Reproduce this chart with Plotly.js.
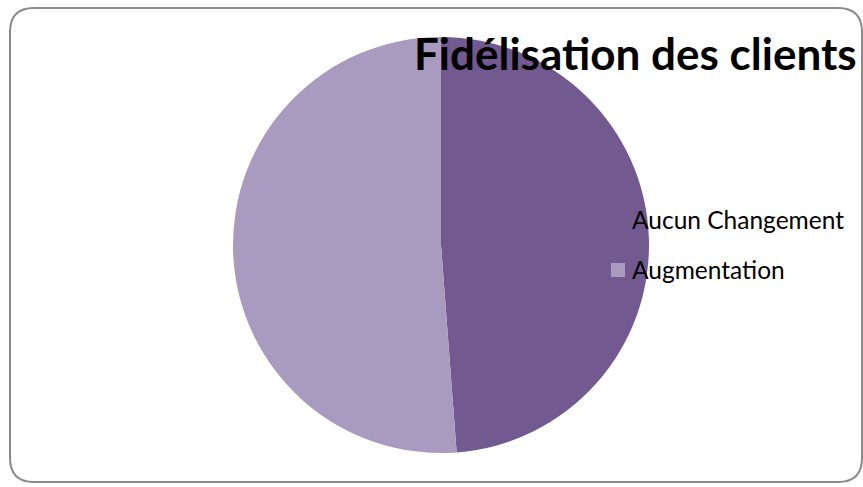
<!DOCTYPE html>
<html>
<head>
<meta charset="utf-8">
<script src="https://cdn.plot.ly/plotly-3.0.1.min.js"></script>
<style>html,body{margin:0;padding:0;background:#fff;}#chart{width:863px;height:487px;}</style>
</head>
<body>
<div id="chart"></div>
<script>
const labels = ["Aucun Changement", "Augmentation"];
const values = [48.8, 51.2];
const colors = ["#725990", "#A99ABF"];
const chartTitle = "Fidélisation des clients";

const W = 863, H = 487;
const px = x => x / W;
const py = y => 1 - y / H;

// rounded border
const L = 10, T = 8, R = 862, B = 482, r = 24;
const borderPath =
  `M ${px(L+r)} ${py(T)} L ${px(R-r)} ${py(T)} Q ${px(R)} ${py(T)} ${px(R)} ${py(T+r)} ` +
  `L ${px(R)} ${py(B-r)} Q ${px(R)} ${py(B)} ${px(R-r)} ${py(B)} ` +
  `L ${px(L+r)} ${py(B)} Q ${px(L)} ${py(B)} ${px(L)} ${py(B-r)} ` +
  `L ${px(L)} ${py(T+r)} Q ${px(L)} ${py(T)} ${px(L+r)} ${py(T)} Z`;

const shapes = [{
  type: "path", xref: "paper", yref: "paper", path: borderPath,
  line: {color: "#8a8a8a", width: 2}, layer: "below"
}];
const annotations = [];
const legX = 630, legY0 = 220, legStep = 50;
labels.forEach((lab, i) => {
  const cy = legY0 + i * legStep;
  shapes.push({
    type: "rect", xref: "paper", yref: "paper",
    x0: px(611), x1: px(625), y0: py(cy + 7), y1: py(cy - 7),
    fillcolor: colors[i], line: {width: 0}, layer: "above"
  });
  annotations.push({
    xref: "paper", yref: "paper", x: px(legX), y: py(cy - 1),
    xanchor: "left", yanchor: "middle", showarrow: false, text: lab,
    font: {family: "Lato, sans-serif", size: 24.5, color: "#000"}
  });
});

const data = [{
  type: "pie",
  labels: labels,
  values: values,
  sort: false,
  direction: "clockwise",
  rotation: 0,
  textinfo: "none",
  hoverinfo: "label+value+percent",
  marker: {colors: colors, line: {color: "#ffffff", width: 0}},
  domain: {x: [233 / W, 649 / W], y: [1 - 453 / H, 1 - 37 / H]},
  showlegend: false
}];

const layout = {
  width: W, height: H,
  margin: {l: 0, r: 0, t: 0, b: 0},
  paper_bgcolor: "#ffffff",
  showlegend: false,
  title: {
    text: "<b>" + chartTitle + "</b>",
    x: px(414), xanchor: "left", xref: "paper",
    y: py(55), yanchor: "middle", yref: "paper",
    font: {family: "Lato, sans-serif", size: 44, color: "#000"}
  },
  shapes: shapes,
  annotations: annotations
};

Plotly.newPlot("chart", data, layout, {displayModeBar: false, staticPlot: true});
</script>
</body>
</html>
